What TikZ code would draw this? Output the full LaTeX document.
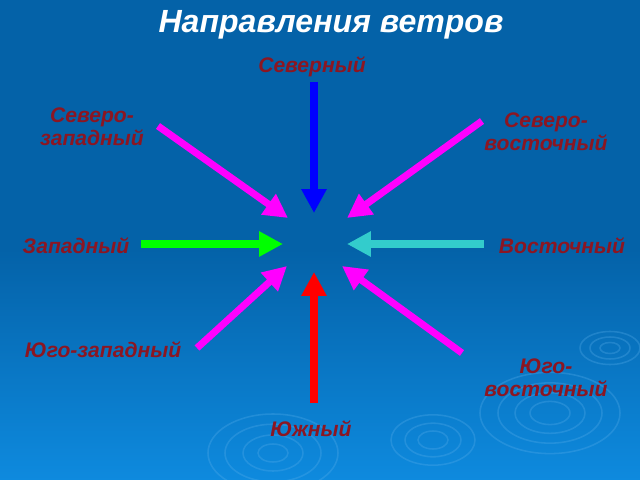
\documentclass[tikz,border=0pt]{standalone}
\usepackage{fontspec}
\setmainfont{Liberation Sans}
\usetikzlibrary{arrows.meta}
\definecolor{bgtop}{RGB}{4,98,168}
\definecolor{bgbot}{RGB}{14,138,222}
\definecolor{lab}{RGB}{140,22,34}
\definecolor{mag}{RGB}{255,0,255}
\definecolor{cyn}{RGB}{51,204,204}
\definecolor{rip}{RGB}{90,175,235}
\tikzset{
  lbl/.style={text=lab, font=\bfseries\itshape\fontsize{15}{16.5}\selectfont, align=center, inner sep=0pt},
  ttl/.style={text=white, font=\bfseries\itshape\fontsize{22.8}{26}\selectfont, inner sep=0pt},
  wind/.style={line width=5pt, -{Triangle[width=17pt,length=17pt]}},
  ripple/.style={draw=rip, line width=1.1pt, opacity=0.3}
}
\begin{document}
\begin{tikzpicture}[x=0.025cm, y=-0.025cm]
\useasboundingbox (0,0) rectangle (640,480);
\fill[bgtop] (0,0) rectangle (640,250);
\shade[top color=bgtop, bottom color=bgbot] (0,249) rectangle (640,480);
% ripples
\foreach \r in {20,35,52,70} {\draw[ripple] (550,413) ellipse ({\r} and {\r*0.58});}
\foreach \r in {10,20,30} {\draw[ripple] (610,348) ellipse ({\r} and {\r*0.55});}
\foreach \r in {15,28,42} {\draw[ripple] (433,440) ellipse ({\r} and {\r*0.6});}
\foreach \r in {15,30,48,65} {\draw[ripple] (273,453) ellipse ({\r} and {\r*0.6});}
% title and labels
\node[ttl] (title) at (331,25) {Направления ветров};
\node[lbl] (n) at (312,67) {Северный};
\node[lbl] (nw) at (92,127) {Северо-\\западный};
\node[lbl] (ne) at (546,132) {Северо-\\восточный};
\node[lbl] (w) at (76,246) {Западный};
\node[lbl] (e) at (562,246) {Восточный};
\node[lbl] (sw) at (103,350) {Юго-западный};
\node[lbl] (se) at (546,378) {Юго-\\восточный};
\node[lbl] (s) at (311,429) {Южный};
% arrow ends
\coordinate (nA) at (314,82);  \coordinate (nB) at (314,213);
\coordinate (nwA) at (158,126); \coordinate (nwB) at (288,218);
\coordinate (neA) at (482,121); \coordinate (neB) at (347,218);
\coordinate (wA) at (141,244); \coordinate (wB) at (283,244);
\coordinate (eA) at (484,244); \coordinate (eB) at (347,244);
\coordinate (swA) at (197,348); \coordinate (swB) at (287,266);
\coordinate (sA) at (314,403); \coordinate (sB) at (314,272);
\coordinate (seA) at (462,353); \coordinate (seB) at (342,266);
\draw[wind, blue] (nA) -- (nB);
\draw[wind, mag] (nwA) -- (nwB);
\draw[wind, mag] (neA) -- (neB);
\draw[wind, green] (wA) -- (wB);
\draw[wind, cyn] (eA) -- (eB);
\draw[wind, mag] (swA) -- (swB);
\draw[wind, red] (sA) -- (sB);
\draw[wind, mag] (seA) -- (seB);
\end{tikzpicture}
\end{document}
